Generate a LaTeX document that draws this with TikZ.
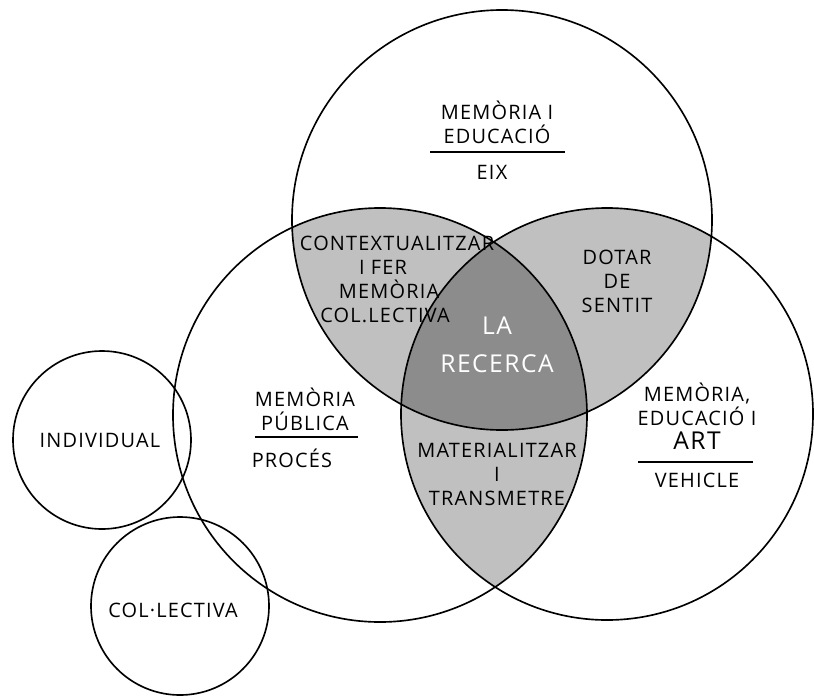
\documentclass[tikz,border=0pt]{standalone}
\usepackage{fontspec}
\setmainfont[LetterSpace=6]{Open Sans}
\usetikzlibrary{positioning}
\definecolor{lensgray}{RGB}{192,192,192}
\definecolor{coregray}{RGB}{140,140,140}

\begin{document}
\begin{tikzpicture}[
    x=0.03cm, y=-0.03cm,
    ring/.style={draw, line width=1.4pt},
    txt/.style={align=center, font=\fontsize{17}{20.5}\selectfont, inner sep=0pt},
    bigtxt/.style={align=center, font=\fontsize{21}{32}\selectfont, inner sep=0pt, white},
    bar/.style={line width=1.3pt}
]
\useasboundingbox (0,0) rectangle (814,695);

% Circle centres
\coordinate (ctop) at (502,220);
\coordinate (cleft) at (380,415);
\coordinate (cright) at (607,414);
\coordinate (cind) at (102,440);
\coordinate (ccol) at (180,606);

% Pairwise overlaps
\begin{scope}
  \clip (ctop) circle [radius=6.3cm];
  \fill[lensgray] (cleft) circle [radius=6.21cm];
  \fill[lensgray] (cright) circle [radius=6.18cm];
\end{scope}
\begin{scope}
  \clip (cleft) circle [radius=6.21cm];
  \fill[lensgray] (cright) circle [radius=6.18cm];
\end{scope}

% Centre of the three circles
\begin{scope}
  \clip (ctop) circle [radius=6.3cm];
  \clip (cleft) circle [radius=6.21cm];
  \fill[coregray] (cright) circle [radius=6.18cm];
\end{scope}

% Outlines
\draw[ring] (ctop) circle [radius=6.3cm];
\draw[ring] (cleft) circle [radius=6.21cm];
\draw[ring] (cright) circle [radius=6.18cm];
\draw[ring] (cind) circle [radius=2.67cm];
\draw[ring] (ccol) circle [radius=2.67cm];

% Top circle
\node[txt] (memedu) at (497,122) {MEMÒRIA I\\EDUCACIÓ};
\node[txt] (eix) at (492,172) {EIX};
\coordinate (u1a) at (430,152);
\coordinate (u1b) at (565,152);
\draw[bar] (u1a) -- (u1b);

% Overlaps
\node[txt] (context) at (397,279) {CONTEXTUALITZAR\\I FER\hbox to 1.4em{}\\MEMÒRIA\hbox to 0.8em{}\\COL.LECTIVA\hbox to 1.2em{}};
\node[txt] (dotar) at (617,281) {DOTAR\\DE\\SENTIT};
\node[txt] (mater) at (497,474) {MATERIALITZAR\\I\\TRANSMETRE};
\node[bigtxt] (recerca) at (497,345) {LA\\RECERCA};

% Left circle
\node[txt] (public) at (305,409) {MEMÒRIA\\PÚBLICA};
\node[txt] (proces) at (292,458) {PROCÉS};
\coordinate (u2a) at (255,437);
\coordinate (u2b) at (358,437);
\draw[bar] (u2a) -- (u2b);

% Right circle
\node[txt] (art) at (697,416) {MEMÒRIA,\\EDUCACIÓ I\\{\fontsize{21}{20}\selectfont ART}};
\node[txt] (vehicle) at (697,480) {VEHICLE};
\coordinate (u3a) at (638,462);
\coordinate (u3b) at (753,462);
\draw[bar] (u3a) -- (u3b);

% Small circles
\node[txt] (indiv) at (100,440) {INDIVIDUAL};
\node[txt] (collect) at (173,610) {COL·LECTIVA};

\end{tikzpicture}
\end{document}
